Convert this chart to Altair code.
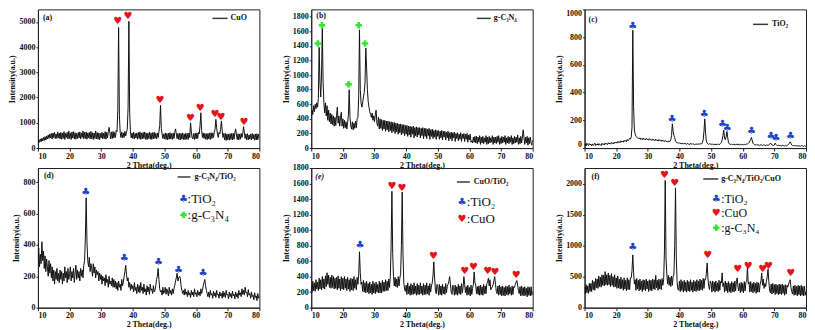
import altair as alt
import pandas as pd

# ---------------- data ----------------
STEP = 0.25
TWO_THETA = [round(10 + STEP * i, 2) for i in range(281)]   # 10 .. 80 deg
X_TICKS = [10, 20, 30, 40, 50, 60, 70, 80]

# (a) CuO  (one row = one degree, 4 samples)
CUO = [
    200, 330, 230, 360, 250, 390, 280, 420, 300, 450, 320, 480, 360, 520, 380, 560,
    400, 580, 360, 600, 420, 620, 380, 560, 380, 640, 400, 590, 360, 620, 350, 600,
    380, 650, 340, 580, 420, 620, 360, 680, 380, 600, 340, 640, 400, 650, 360, 610,
    350, 580, 380, 620, 400, 640, 360, 600, 420, 680, 370, 620, 380, 640, 350, 600,
    410, 620, 360, 660, 370, 610, 340, 600, 380, 680, 360, 620, 350, 600, 330, 580,
    400, 620, 360, 590, 380, 650, 350, 620, 400, 660, 820, 600, 360, 640, 380, 660,
    400, 620, 420, 700, 650, 1500, 4780, 1300, 620, 420, 640, 400, 600, 420, 660, 480,
    640, 750, 1600, 5030, 1400, 640, 400, 600, 380, 620, 360, 580, 400, 600, 350, 620,
    380, 640, 340, 600, 360, 620, 380, 640, 350, 600, 330, 590, 380, 630, 350, 600,
    340, 610, 370, 630, 380, 580, 360, 600, 420, 640, 900, 1690, 780, 560, 380, 560,
    360, 600, 340, 580, 330, 590, 350, 610, 360, 570, 340, 600, 380, 620, 760, 560,
    370, 580, 340, 590, 320, 580, 350, 600, 340, 560, 330, 590, 350, 580, 340, 600,
    420, 1000, 640, 400, 360, 580, 340, 590, 360, 600, 380, 620, 560, 900, 1400, 700,
    420, 600, 380, 580, 350, 570, 330, 580, 360, 600, 340, 610, 380, 600, 420, 640,
    750, 1140, 800, 560, 420, 620, 560, 750, 1075, 700, 420, 580, 320, 580, 300, 560,
    330, 560, 310, 570, 340, 580, 320, 590, 350, 600, 760, 520, 340, 570, 320, 560,
    350, 580, 420, 560, 850, 620, 380, 560, 320, 570, 330, 520, 350, 560, 320, 580,
    360, 540, 310, 560, 320, 570, 330, 550, 400,
]

# (b) g-C3N4
GCN = [
    400, 520, 460, 580, 500, 600, 540, 620, 560, 680, 1380, 900, 700, 1000, 1640, 900,
    620, 480, 620, 440, 580, 380, 520, 360, 480, 330, 460, 320, 440, 300, 420, 310,
    450, 560, 340, 440, 300, 420, 490, 300, 400, 270, 380, 280, 360, 260, 350, 450,
    800, 420, 300, 260, 360, 250, 340, 270, 370, 280, 400, 420, 700, 1620, 800, 620,
    560, 620, 700, 760, 900, 1370, 1100, 800, 640, 560, 500, 460, 420, 480, 380, 440,
    360, 460, 520, 340, 300, 420, 260, 400, 270, 390, 240, 380, 260, 380, 230, 370,
    250, 370, 220, 360, 240, 360, 210, 350, 230, 350, 200, 340, 220, 340, 190, 330,
    210, 330, 180, 320, 200, 320, 170, 310, 190, 310, 160, 300, 180, 300, 150, 290,
    190, 300, 140, 280, 170, 290, 150, 280, 180, 280, 140, 270, 170, 280, 130, 270,
    160, 270, 130, 260, 170, 270, 120, 250, 160, 260, 130, 240, 150, 250, 120, 240,
    160, 240, 120, 230, 140, 240, 110, 230, 150, 230, 110, 220, 140, 230, 100, 210,
    130, 220, 100, 210, 140, 220, 90, 200, 130, 210, 100, 190, 120, 210, 90, 190,
    130, 200, 90, 190, 120, 200, 80, 180, 110, 190, 80, 100, 70, 150, 80, 160,
    70, 160, 60, 150, 80, 170, 50, 150, 70, 160, 60, 140, 80, 170, 50, 150,
    60, 160, 70, 140, 80, 170, 50, 150, 70, 150, 60, 160, 80, 170, 50, 140,
    60, 160, 70, 150, 80, 170, 50, 140, 70, 160, 60, 150, 80, 170, 50, 140,
    60, 160, 70, 150, 80, 180, 50, 140, 60, 160, 70, 150, 250, 140, 50, 150,
    70, 160, 40, 140, 60, 150, 70, 40, 110,
]

# (c) TiO2
TIO2 = [
    20, 30, 15, 35, 25, 18, 32, 22, 28, 15, 30, 20, 25, 35, 18, 28,
    22, 32, 20, 30, 25, 18, 34, 26, 30, 22, 36, 28, 32, 25, 38, 30,
    35, 28, 40, 32, 38, 30, 44, 36, 42, 35, 48, 40, 46, 38, 52, 44,
    50, 42, 56, 48, 55, 46, 62, 52, 60, 70, 64, 80, 150, 850, 300, 130,
    100, 85, 78, 72, 70, 66, 74, 62, 68, 60, 72, 64, 66, 58, 70, 62,
    64, 56, 68, 60, 62, 55, 66, 58, 60, 52, 64, 56, 58, 50, 62, 54,
    55, 48, 58, 50, 52, 45, 55, 48, 48, 42, 52, 45, 48, 60, 90, 175,
    120, 90, 75, 50, 42, 36, 40, 34, 38, 32, 36, 30, 34, 28, 36, 30,
    32, 26, 34, 28, 30, 25, 34, 28, 32, 26, 30, 25, 30, 24, 32, 26,
    28, 32, 26, 34, 30, 38, 60, 120, 210, 110, 50, 34, 30, 26, 32, 28,
    30, 25, 28, 24, 28, 22, 30, 25, 26, 30, 24, 28, 32, 40, 60, 90,
    130, 70, 60, 80, 120, 75, 40, 30, 28, 24, 30, 25, 26, 22, 28, 24,
    25, 30, 22, 28, 24, 28, 22, 26, 25, 22, 28, 24, 26, 30, 28, 34,
    40, 50, 62, 76, 55, 35, 28, 24, 22, 26, 20, 25, 22, 18, 25, 20,
    22, 18, 24, 20, 21, 17, 23, 19, 22, 20, 26, 36, 30, 22, 20, 18,
    22, 35, 26, 20, 18, 22, 16, 20, 18, 15, 20, 17, 18, 15, 20, 16,
    18, 22, 26, 35, 45, 35, 22, 18, 16, 20, 14, 18, 15, 18, 13, 17,
    15, 12, 18, 14, 16, 12, 17, 13, 15,
]

# (d) g-C3N4/TiO2
GCN_TIO2 = [
    300, 380, 260, 340, 280, 420, 300, 360, 250, 330, 230, 310, 260, 200, 300, 220,
    280, 190, 260, 170, 240, 150, 230, 180, 250, 170, 220, 160, 240, 180, 230, 150,
    220, 170, 260, 190, 230, 160, 250, 180, 210, 260, 170, 230, 190, 250, 160, 220,
    270, 180, 240, 190, 230, 170, 250, 200, 240, 190, 270, 300, 450, 700, 420, 300,
    260, 320, 230, 280, 250, 200, 280, 220, 260, 190, 240, 210, 230, 170, 220, 180,
    210, 150, 200, 170, 190, 140, 210, 160, 180, 130, 200, 150, 170, 140, 190, 130,
    180, 130, 170, 120, 160, 110, 170, 130, 150, 110, 180, 140, 160, 200, 230, 270,
    210, 170, 190, 130, 160, 110, 150, 120, 140, 100, 160, 110, 130, 90, 150, 100,
    140, 95, 160, 110, 130, 90, 150, 100, 120, 80, 140, 100, 130, 85, 150, 110,
    120, 90, 140, 100, 110, 140, 180, 200, 250, 180, 120, 100, 110, 80, 130, 90,
    100, 130, 85, 120, 100, 75, 130, 90, 110, 80, 120, 90, 120, 140, 170, 190,
    220, 170, 190, 200, 190, 140, 110, 90, 110, 80, 120, 85, 100, 70, 110, 80,
    95, 65, 110, 80, 100, 70, 120, 85, 95, 70, 110, 80, 100, 75, 120, 90,
    110, 140, 160, 180, 140, 110, 90, 70, 100, 65, 110, 80, 90, 60, 105, 75,
    95, 65, 110, 80, 85, 60, 100, 75, 90, 60, 105, 70, 95, 65, 110, 80,
    85, 55, 100, 70, 90, 60, 105, 75, 85, 55, 100, 70, 90, 60, 110, 80,
    95, 70, 120, 85, 110, 80, 130, 95, 100, 70, 115, 80, 90, 60, 100, 70,
    80, 50, 95, 65, 75, 45, 90, 60, 70,
]

# (e) CuO/TiO2
CUO_TIO2 = [
    290, 200, 340, 220, 320, 210, 360, 240, 330, 220, 380, 240, 360, 230, 400, 250,
    370, 240, 410, 270, 450, 300, 420, 260, 390, 250, 420, 260, 400, 240, 380, 250,
    390, 230, 410, 250, 370, 220, 400, 240, 380, 230, 400, 250, 370, 220, 390, 240,
    360, 210, 380, 230, 370, 220, 400, 250, 360, 230, 390, 300, 420, 720, 450, 300,
    330, 210, 350, 200, 320, 190, 340, 200, 310, 180, 330, 190, 300, 170, 340, 190,
    310, 180, 330, 200, 300, 190, 340, 190, 320, 190, 350, 210, 330, 210, 360, 220,
    340, 220, 370, 260, 400, 800, 1500, 700, 400, 280, 390, 270, 370, 260, 400, 280,
    380, 440, 800, 1490, 700, 330, 240, 210, 290, 170, 320, 180, 280, 160, 310, 170,
    290, 170, 320, 180, 280, 160, 310, 170, 290, 170, 320, 180, 280, 160, 310, 170,
    290, 170, 320, 180, 280, 160, 310, 200, 280, 320, 420, 590, 380, 230, 180, 300,
    270, 160, 300, 170, 280, 160, 300, 180, 270, 170, 310, 190, 280, 300, 340, 400,
    300, 200, 170, 290, 260, 160, 290, 170, 270, 160, 300, 180, 280, 170, 310, 190,
    260, 400, 300, 190, 270, 160, 290, 170, 260, 150, 290, 170, 250, 300, 460, 320,
    290, 180, 270, 170, 280, 160, 290, 170, 270, 160, 300, 180, 280, 180, 310, 330,
    380, 280, 360, 230, 250, 270, 300, 350, 400, 300, 210, 180, 280, 160, 290, 170,
    270, 150, 280, 160, 260, 150, 280, 170, 270, 160, 290, 180, 260, 160, 280, 170,
    270, 260, 300, 330, 350, 290, 220, 180, 270, 150, 280, 160, 260, 150, 270, 160,
    250, 140, 270, 160, 260, 150, 270, 160, 210,
]

# (f) g-C3N4/TiO2/CuO
GCN_TIO2_CUO = [
    330, 220, 370, 240, 350, 230, 390, 260, 390, 260, 440, 290, 420, 280, 470, 320,
    460, 310, 510, 340, 490, 330, 530, 360, 520, 350, 580, 370, 530, 360, 560, 370,
    520, 340, 550, 360, 500, 330, 530, 340, 480, 310, 510, 320, 460, 300, 490, 310,
    450, 280, 480, 300, 440, 270, 480, 290, 450, 290, 480, 480, 600, 850, 560, 380,
    450, 280, 470, 300, 440, 270, 460, 290, 430, 260, 450, 290, 440, 270, 460, 300,
    430, 260, 450, 280, 440, 270, 460, 300, 450, 290, 520, 320, 440, 280, 460, 300,
    450, 290, 470, 360, 450, 900, 2050, 800, 540, 380, 520, 360, 490, 340, 510, 360,
    500, 540, 1000, 1930, 800, 420, 300, 280, 430, 260, 450, 280, 420, 250, 440, 270,
    410, 250, 440, 270, 420, 260, 450, 280, 410, 250, 440, 270, 420, 260, 450, 280,
    430, 270, 460, 290, 440, 280, 470, 310, 460, 450, 550, 720, 480, 340, 290, 430,
    400, 250, 430, 270, 410, 250, 430, 270, 400, 260, 440, 280, 420, 400, 560, 340,
    400, 250, 430, 270, 400, 240, 420, 260, 390, 240, 420, 260, 400, 250, 430, 270,
    420, 480, 330, 270, 390, 240, 410, 260, 390, 240, 420, 270, 410, 420, 650, 380,
    410, 250, 420, 260, 390, 240, 410, 260, 390, 230, 410, 250, 400, 250, 380, 430,
    560, 360, 460, 310, 390, 340, 430, 500, 620, 420, 280, 240, 380, 220, 390, 240,
    370, 210, 380, 230, 360, 210, 380, 220, 370, 210, 380, 230, 360, 200, 370, 220,
    360, 330, 380, 420, 450, 320, 260, 220, 350, 200, 360, 210, 340, 190, 360, 210,
    350, 190, 360, 200, 340, 190, 350, 200, 260,
]

for _s in (CUO, GCN, TIO2, GCN_TIO2, CUO_TIO2, GCN_TIO2_CUO):
    assert len(_s) == len(TWO_THETA), len(_s)

# peak markers (position in deg, height in a.u.)
A_HEART_X = [35.2, 38.5, 48.6, 58.2, 61.3, 66.0, 67.9, 75.1]
A_HEART_Y = [5030, 5230, 1890, 1180, 1600, 1340, 1230, 1050]
B_GREEN_X = [12.1, 13.4, 21.8, 25.0, 27.0]
B_GREEN_Y = [1432, 1682, 873, 1682, 1432]
C_CLUB_X = [25.2, 37.6, 47.8, 53.6, 55.1, 62.8, 68.9, 70.5, 75.1]
C_CLUB_Y = [883, 208, 248, 170, 141, 126, 84, 69, 88]
D_CLUB_X = [25.1, 37.3, 48.1, 54.4, 62.2]
D_CLUB_Y = [736, 315, 290, 243, 223]
E_CLUB_X = [25.4]
E_CLUB_Y = [810]
E_HEART_X = [35.5, 38.7, 48.6, 58.5, 61.3, 65.8, 68.1, 74.8]
E_HEART_Y = [1566, 1548, 661, 469, 529, 473, 456, 426]
F_CLUB_X = [25.2]
F_CLUB_Y = [976]
F_HEART_X = [35.3, 38.5, 48.9, 58.4, 61.7, 66.3, 68.1, 75.2]
F_HEART_Y = [2134, 2005, 842, 617, 670, 627, 676, 552]

PANEL_TAGS = ["(a)", "(b)", "(c)", "(d)", "(e)", "(f)"]
SAMPLE_NAMES = ["CuO", "g-C\u2083N\u2084", "TiO\u2082", "g-C\u2083N\u2084/TiO\u2082",
                "CuO/TiO\u2082", "g-C\u2083N\u2084/TiO\u2082/CuO"]
PHASE_KEYS = [":TiO\u2082", ":CuO", ":g-C\u2083N\u2084"]
X_TITLE = "2 Theta(deg.)"
Y_TITLE = "Intensity(a.u.)"

# ---------------- styling ----------------
SERIF = "Liberation Serif"
SYM = "DejaVu Sans"
HEART = "\u2665"
CLUB = "\u2663"
HEART_C = "#e3141c"
CLUB_C = "#2242c6"
GREEN_C = "#35e535"
W = 222
H1 = 139
H2 = 140


def xscale():
    return alt.Scale(domain=[10, 80], nice=False, zero=False)


def xaxis():
    return alt.Axis(values=X_TICKS, title=X_TITLE, format="d")


def yaxis(yticks, flush):
    return alt.Axis(values=yticks, title=Y_TITLE, format="d", labelFlush=flush)


def base(vals, ymax, yticks, flush=False):
    df = pd.DataFrame({"x": TWO_THETA, "y": vals})
    ysc = alt.Scale(domain=[0, ymax], nice=False, zero=True)
    yax = yaxis(yticks, flush)
    line = alt.Chart(df).mark_line(color="#111111", strokeWidth=1.0, clip=True).encode(
        x=alt.X("x:Q", scale=xscale(), axis=xaxis()),
        y=alt.Y("y:Q", scale=ysc, axis=yax),
    )
    return line, ysc, yax


def sym_marks(px, py, symbol, color, ysc, yax):
    df = pd.DataFrame({"x": px, "y": py, "s": [symbol] * len(px)})
    return alt.Chart(df).mark_text(font=SYM, fontSize=10, color=color, baseline="middle").encode(
        x=alt.X("x:Q", scale=xscale(), axis=xaxis()),
        y=alt.Y("y:Q", scale=ysc, axis=yax),
        text="s:N",
    )


def green_marks(px, py, ysc, yax):
    df = pd.DataFrame({"x": px, "y": py})
    return alt.Chart(df).mark_point(shape="cross", filled=True, size=42, color=GREEN_C,
                                    opacity=1).encode(
        x=alt.X("x:Q", scale=xscale(), axis=xaxis()),
        y=alt.Y("y:Q", scale=ysc, axis=yax),
    )


def txt(text, x, y, size=8, weight="bold", style="normal", font=SERIF, color="#111",
        align="left"):
    return alt.Chart(pd.DataFrame({"t": [text]})).mark_text(
        font=font, fontSize=size, fontWeight=weight, fontStyle=style, color=color,
        align=align, baseline="middle").encode(x=alt.value(x), y=alt.value(y), text="t:N")


def sample_line(x1, x2, y):
    return alt.Chart(pd.DataFrame({"t": [0]})).mark_rule(color="#3a3a3a", strokeWidth=1.5).encode(
        x=alt.value(x1), x2=alt.value(x2), y=alt.value(y))


def green_key(x, y):
    return alt.Chart(pd.DataFrame({"t": [0]})).mark_point(
        shape="cross", filled=True, size=42, color=GREEN_C, opacity=1).encode(
        x=alt.value(x), y=alt.value(y))


# (a)
la, ya, aa = base(CUO, 5500, [0, 1000, 2000, 3000, 4000, 5000])
pa = alt.layer(
    la, sym_marks(A_HEART_X, A_HEART_Y, HEART, HEART_C, ya, aa),
    txt(PANEL_TAGS[0], 5, 9), sample_line(175, 190, 9), txt(SAMPLE_NAMES[0], 193, 9),
).properties(width=W, height=H1)

# (b)
lb, yb, ab = base(GCN, 1900, [0, 200, 400, 600, 800, 1000, 1200, 1400, 1600, 1800])
pb = alt.layer(
    lb, green_marks(B_GREEN_X, B_GREEN_Y, yb, ab),
    txt(PANEL_TAGS[1], 5, 7), sample_line(166, 180, 9), txt(SAMPLE_NAMES[1], 183, 9),
).properties(width=W, height=H1)

# (c)
lc, yc, ac = base(TIO2, 1000, [0, 200, 400, 600, 800, 1000], flush=True)
pc = alt.layer(
    lc, sym_marks(C_CLUB_X, C_CLUB_Y, CLUB, CLUB_C, yc, ac),
    txt(PANEL_TAGS[2], 4, 11), sample_line(169, 184, 15), txt(SAMPLE_NAMES[2], 188, 15),
).properties(width=W, height=H1)

# (d)
ld, yd, ad = base(GCN_TIO2, 890, [0, 200, 400, 600, 800])
pd_ = alt.layer(
    ld, sym_marks(D_CLUB_X, D_CLUB_Y, CLUB, CLUB_C, yd, ad),
    txt(PANEL_TAGS[3], 6, 8), sample_line(140, 153, 9), txt(SAMPLE_NAMES[3], 157, 9),
    txt(CLUB, 146, 31, size=10, weight="normal", font=SYM, color=CLUB_C, align="center"),
    txt(PHASE_KEYS[0], 150, 31, size=13, weight="normal"),
    green_key(146, 47),
    txt(PHASE_KEYS[2], 150, 47, size=13, weight="normal"),
).properties(width=W, height=H2)

# (e)
le, ye, ae = base(CUO_TIO2, 1800, [0, 200, 400, 600, 800, 1000, 1200, 1400, 1600, 1800])
pe = alt.layer(
    le, sym_marks(E_CLUB_X, E_CLUB_Y, CLUB, CLUB_C, ye, ae),
    sym_marks(E_HEART_X, E_HEART_Y, HEART, HEART_C, ye, ae),
    txt(PANEL_TAGS[4], 4, 9, style="italic"), sample_line(146, 159, 14),
    txt(SAMPLE_NAMES[4], 163, 14),
    txt(CLUB, 151, 34, size=10, weight="normal", font=SYM, color=CLUB_C, align="center"),
    txt(PHASE_KEYS[0], 156, 34, size=13, weight="normal"),
    txt(HEART, 151, 51, size=10, weight="normal", font=SYM, color=HEART_C, align="center"),
    txt(PHASE_KEYS[1], 156, 51, size=13, weight="normal"),
).properties(width=W, height=H2)

# (f)
lf, yf, af = base(GCN_TIO2_CUO, 2250, [0, 500, 1000, 1500, 2000])
pf = alt.layer(
    lf, sym_marks(F_CLUB_X, F_CLUB_Y, CLUB, CLUB_C, yf, af),
    sym_marks(F_HEART_X, F_HEART_Y, HEART, HEART_C, yf, af),
    txt(PANEL_TAGS[5], 7, 9), sample_line(119, 134, 11), txt(SAMPLE_NAMES[5], 137, 11),
    txt(CLUB, 132, 31, size=10, weight="normal", font=SYM, color=CLUB_C, align="center"),
    txt(PHASE_KEYS[0], 137, 31, size=12, weight="normal"),
    txt(HEART, 132, 45, size=10, weight="normal", font=SYM, color=HEART_C, align="center"),
    txt(PHASE_KEYS[1], 137, 45, size=12, weight="normal"),
    green_key(132, 60),
    txt(PHASE_KEYS[2], 137, 60, size=12, weight="normal"),
).properties(width=W, height=H2)

chart = alt.concat(
    pa, pb, pc, pd_, pe, pf, columns=3, spacing={"row": 20, "column": 52}, bounds="flush",
).properties(
    padding={"left": 0, "top": 0, "right": 0, "bottom": 0}, background="white",
).configure_axis(
    labelFont=SERIF, labelFontWeight="bold", labelFontSize=8, labelColor="#111",
    titleFont=SERIF, titleFontWeight="bold", titleFontSize=8, titleColor="#111",
    grid=False, domainColor="#222", tickColor="#222", tickSize=3,
).configure_axisY(
    labelPadding=1, titlePadding=2, tickSize=2,
).configure_axisX(
    labelPadding=1, titlePadding=1,
).configure_view(
    stroke="#222", strokeWidth=1,
)

chart.save("out.html", embed_options={"renderer": "svg", "actions": False})
